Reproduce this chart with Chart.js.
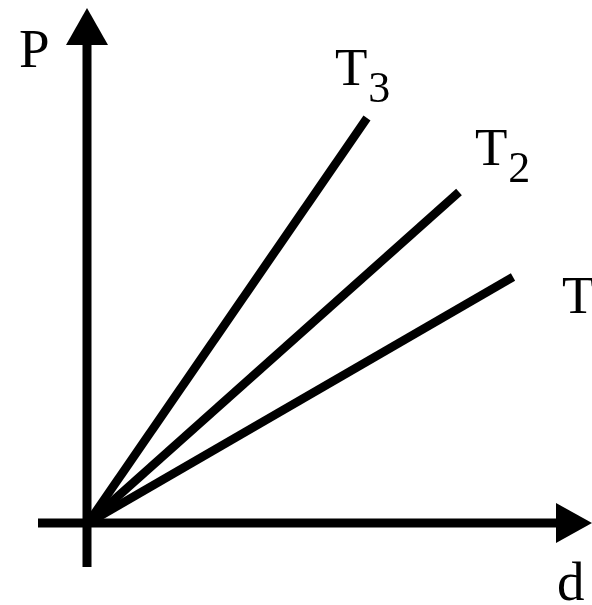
<!DOCTYPE html>
<html>
<head>
<meta charset="utf-8">
<script src="https://cdn.jsdelivr.net/npm/chart.js@4/dist/chart.umd.min.js"></script>
<style>
  html, body { margin: 0; padding: 0; background: #fff; }
  #wrap { width: 592px; height: 605px; }
</style>
</head>
<body>
<div id="wrap"><canvas id="chart" width="592" height="605"></canvas></div>
<script>
  // isotherms P vs d, all through the origin (arbitrary units)
  const series = ["T3", "T2", "T1"];
  const endD = [2.79, 3.71, 4.25];
  const endP = [4.05, 3.31, 2.46];

  // label anchors (data units)
  const labelD = [2.47, 3.87, 4.74];
  const labelP = [4.38, 3.58, 2.10];

  const axisNames = ["P", "d"];

  const SERIF = "'Liberation Serif', 'Times New Roman', serif";

  const datasets = series.map((name, i) => ({
    label: name,
    data: [{ x: 0, y: 0 }, { x: endD[i], y: endP[i] }],
    showLine: true,
    borderColor: "#000",
    borderWidth: 8.5,
    pointRadius: 0,
    borderCapStyle: "butt",
  }));

  const diagram = {
    id: "diagram",
    beforeDatasetsDraw(chart) {
      const { ctx, scales: { x, y } } = chart;
      const x0 = x.getPixelForValue(-0.01);
      const y0 = y.getPixelForValue(0);
      ctx.save();
      ctx.strokeStyle = "#000";
      ctx.fillStyle = "#000";
      ctx.lineWidth = 9;

      // d axis
      const xEnd = x.getPixelForValue(5.04);
      ctx.beginPath();
      ctx.moveTo(x.getPixelForValue(-0.5), y0);
      ctx.lineTo(xEnd - 30, y0);
      ctx.stroke();
      ctx.beginPath();
      ctx.moveTo(xEnd, y0);
      ctx.lineTo(xEnd - 36, y0 - 20);
      ctx.lineTo(xEnd - 36, y0 + 20);
      ctx.closePath();
      ctx.fill();

      // P axis
      const yEnd = y.getPixelForValue(5.15);
      ctx.beginPath();
      ctx.moveTo(x0, y.getPixelForValue(-0.44));
      ctx.lineTo(x0, yEnd + 30);
      ctx.stroke();
      ctx.beginPath();
      ctx.moveTo(x0, yEnd);
      ctx.lineTo(x0 - 21, yEnd + 37);
      ctx.lineTo(x0 + 21, yEnd + 37);
      ctx.closePath();
      ctx.fill();
      ctx.restore();
    },
    afterDatasetsDraw(chart) {
      const { ctx, scales: { x, y } } = chart;
      ctx.save();
      ctx.fillStyle = "#000";
      ctx.textBaseline = "alphabetic";
      ctx.textAlign = "left";

      ctx.font = "55px " + SERIF;
      ctx.fillText(axisNames[0], x.getPixelForValue(-0.69), y.getPixelForValue(4.56));
      ctx.fillText(axisNames[1], x.getPixelForValue(4.69), y.getPixelForValue(-0.77));

      series.forEach((name, i) => {
        const px = x.getPixelForValue(labelD[i]);
        const py = y.getPixelForValue(labelP[i]);
        ctx.font = "53px " + SERIF;
        ctx.fillText(name[0], px, py);
        const w = ctx.measureText(name[0]).width;
        ctx.font = "44px " + SERIF;
        ctx.fillText(name.slice(1), px + w + 1, py + 17);
      });
      ctx.restore();
    },
  };

  new Chart(document.getElementById("chart"), {
    type: "scatter",
    data: { datasets },
    options: {
      responsive: false,
      animation: false,
      layout: { padding: 0 },
      scales: {
        x: { type: "linear", min: -0.88, max: 5.04, display: false },
        y: { type: "linear", min: -0.82, max: 5.23, display: false },
      },
      plugins: {
        legend: { display: false },
        tooltip: { enabled: false },
      },
    },
    plugins: [diagram],
  });
</script>
</body>
</html>
